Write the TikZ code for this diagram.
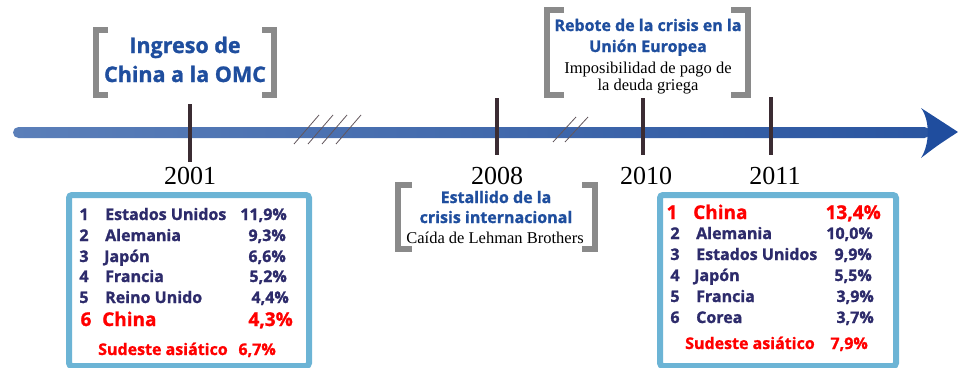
\documentclass[tikz,border=0pt]{standalone}
\usepackage{fontspec}
\setmainfont{Liberation Serif}
\newfontfamily\osans[BoldFeatures={FakeBold=1.2}]{Open Sans}
\definecolor{navy}{HTML}{2D2B6B}
\definecolor{titleblue}{HTML}{1F4E9E}
\definecolor{redc}{HTML}{FF0000}
\definecolor{boxblue}{HTML}{6CB4D5}
\definecolor{brgray}{HTML}{8A8A8A}
\definecolor{tickc}{HTML}{3B2C33}
\definecolor{barL}{HTML}{5B7FB9}
\definecolor{barR}{HTML}{2A55A0}
\definecolor{headblue}{HTML}{1F4D9E}
\tikzset{
  title/.style={font=\osans\bfseries\fontsize{21.5}{24}\selectfont, text=titleblue, inner sep=0, anchor=base},
  subtitle/.style={font=\osans\bfseries\fontsize{16}{19}\selectfont, text=titleblue, inner sep=0, anchor=base},
  serifnote/.style={font=\fontsize{16.5}{19}\selectfont, text=black, inner sep=0, anchor=base},
  year/.style={font=\fontsize{26}{30}\selectfont, text=black, inner sep=0, anchor=base},
  rowtxt/.style={font=\osans\bfseries\fontsize{16}{19}\selectfont, text=navy, inner sep=0},
  bigred/.style={font=\osans\bfseries\fontsize{19}{22}\selectfont, text=redc, inner sep=0},
  redtxt/.style={font=\osans\bfseries\fontsize{16}{19}\selectfont, text=redc, inner sep=0},
  bracket/.style={draw=brgray, line width=6pt, line cap=butt, line join=miter},
  tickmark/.style={draw=tickc, line width=4pt},
  hatch/.style={draw=tickc!80, line width=0.8pt},
  databox/.style={draw=boxblue, line width=6pt, fill=white, rounded corners=3pt},
}
\begin{document}
\begin{tikzpicture}[x=1pt,y=-1pt]
\useasboundingbox (0,0) rectangle (958,367);
% timeline bar
\shade[left color=barL, right color=barR, rounded corners=5.5pt] (13,127) rectangle (930,138);
\fill[headblue] (921,108) .. controls (938,119) .. (958,132) .. controls (938,145) .. (921,158) .. controls (930,144) and (930,120) .. (921,108);
% hatch marks
\foreach \a in {294,308,322,336}{\draw[hatch] (\a,144) -- (\a+25,115);}
\foreach \a in {553,565}{\draw[hatch] (\a,142) -- (\a+23,117);}
% ticks
\draw[tickmark] (190,104) -- (190,162);
\draw[tickmark] (497,98) -- (497,155);
\draw[tickmark] (643,98) -- (643,155);
\draw[tickmark] (771,97) -- (771,155);
% years
\node[year] (y2001) at (190,184) {2001};
\node[year] (y2008) at (497,184) {2008};
\node[year] (y2010) at (646,184) {2010};
\node[year] (y2011) at (775,184) {2011};
% title bracket 2001
\draw[bracket] (108,30) -- (96,30) -- (96,95) -- (108,95);
\draw[bracket] (262,30) -- (274,30) -- (274,95) -- (262,95);
\node[title] (t1) at (185,53) {Ingreso de};
\node[title] (t2) at (185,82) {China a la OMC};
% rebote bracket
\draw[bracket] (564,10) -- (547,10) -- (547,95) -- (564,95);
\draw[bracket] (731,10) -- (748,10) -- (748,95) -- (731,95);
\node[subtitle] (r1) at (648,31) {Rebote de la crisis en la};
\node[subtitle] (r2) at (648,52) {Unión Europea};
\node[serifnote] (r3) at (648,73) {Imposibilidad de pago de};
\node[serifnote] (r4) at (648,90) {la deuda griega};
% estallido bracket
\draw[bracket] (412,185) -- (398,185) -- (398,249) -- (412,249);
\draw[bracket] (582,185) -- (595,185) -- (595,249) -- (582,249);
\node[subtitle] (e1) at (496,203) {Estallido de la};
\node[subtitle] (e2) at (496,223) {crisis internacional};
\node[serifnote] (e3) at (495,243) {Caída de Lehman Brothers};
% left box
\draw[databox] (69,195) rectangle (309,366);
\node[rowtxt, anchor=base] (ln1) at (84,220) {1};
\node[rowtxt, anchor=base west] (lc1) at (105,220) {Estados Unidos};
\node[rowtxt, anchor=base east] (lp1) at (287,220) {11,9\%};
\node[rowtxt, anchor=base] (ln2) at (84,241) {2};
\node[rowtxt, anchor=base west] (lc2) at (105,241) {Alemania};
\node[rowtxt, anchor=base east] (lp2) at (286,241) {9,3\%};
\node[rowtxt, anchor=base] (ln3) at (84,262) {3};
\node[rowtxt, anchor=base west] (lc3) at (104,262) {Japón};
\node[rowtxt, anchor=base east] (lp3) at (286,262) {6,6\%};
\node[rowtxt, anchor=base] (ln4) at (84,282) {4};
\node[rowtxt, anchor=base west] (lc4) at (105,282) {Francia};
\node[rowtxt, anchor=base east] (lp4) at (287,282) {5,2\%};
\node[rowtxt, anchor=base] (ln5) at (84,303) {5};
\node[rowtxt, anchor=base west] (lc5) at (105,303) {Reino Unido};
\node[rowtxt, anchor=base east] (lp5) at (289,303) {4,4\%};
\node[bigred, anchor=base] (ln6) at (86,326) {6};
\node[bigred, anchor=base west] (lc6) at (102,326) {China};
\node[bigred, anchor=base east] (lp6) at (293,326) {4,3\%};
\node[redtxt, anchor=base west] (ls) at (98,355) {Sudeste asiático};
\node[redtxt, anchor=base east] (lsp) at (276,355) {6,7\%};
% right box
\draw[databox] (660,195) rectangle (896,366);
\node[bigred, anchor=base] (rn1) at (672,219) {1};
\node[bigred, anchor=base west] (rc1) at (693,219) {China};
\node[bigred, anchor=base east] (rp1) at (881,219) {13,4\%};
\node[rowtxt, anchor=base] (rn2) at (675,239) {2};
\node[rowtxt, anchor=base west] (rc2) at (696,239) {Alemania};
\node[rowtxt, anchor=base east] (rp2) at (873,239) {10,0\%};
\node[rowtxt, anchor=base] (rn3) at (675,260) {3};
\node[rowtxt, anchor=base west] (rc3) at (696,260) {Estados Unidos};
\node[rowtxt, anchor=base east] (rp3) at (872,260) {9,9\%};
\node[rowtxt, anchor=base] (rn4) at (675,281) {4};
\node[rowtxt, anchor=base west] (rc4) at (694,281) {Japón};
\node[rowtxt, anchor=base east] (rp4) at (872,281) {5,5\%};
\node[rowtxt, anchor=base] (rn5) at (675,302) {5};
\node[rowtxt, anchor=base west] (rc5) at (696,302) {Francia};
\node[rowtxt, anchor=base east] (rp5) at (874,302) {3,9\%};
\node[rowtxt, anchor=base] (rn6) at (675,323) {6};
\node[rowtxt, anchor=base west] (rc6) at (696,323) {Corea};
\node[rowtxt, anchor=base east] (rp6) at (874,323) {3,7\%};
\node[redtxt, anchor=base west] (rs) at (685,349) {Sudeste asiático};
\node[redtxt, anchor=base east] (rsp) at (868,349) {7,9\%};
\end{tikzpicture}
\end{document}
